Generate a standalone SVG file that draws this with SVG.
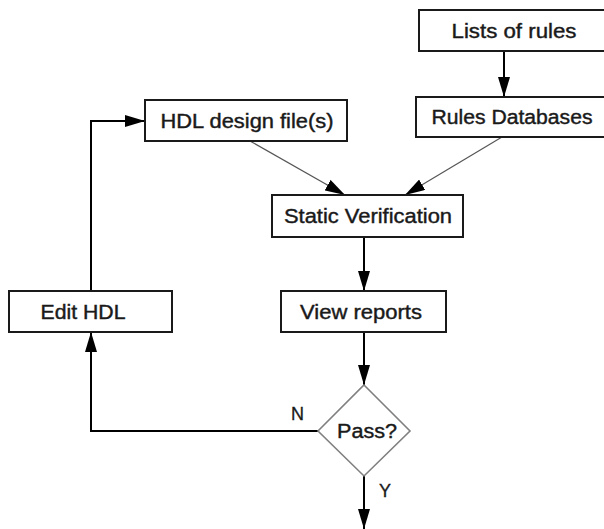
<svg xmlns="http://www.w3.org/2000/svg" width="604" height="529" viewBox="0 0 604 529">
  <defs>
    <marker id="arrow" viewBox="0 0 20 12" refX="20" refY="6" markerWidth="20" markerHeight="12" markerUnits="userSpaceOnUse" orient="auto">
      <path d="M0,0 L20,6 L0,12 Z" fill="#000"/>
    </marker>
    <style>
      .box { fill: #fff; stroke: #1a1a1a; stroke-width: 2; }
      .decision { fill: #fff; stroke: #808080; stroke-width: 1.6; }
      .label { font-family: "Liberation Sans", Arial, sans-serif; font-size: 19.5px; fill: #1a1a1a; stroke: #1a1a1a; stroke-width: 0.4; text-anchor: middle; }
      .small { font-family: "Liberation Sans", Arial, sans-serif; font-size: 18px; fill: #1a1a1a; stroke: #1a1a1a; stroke-width: 0.3; }
      .wire { fill: none; stroke: #000; stroke-width: 2; }
      .thin { fill: none; stroke: #555; stroke-width: 1.2; }
    </style>
  </defs>
  <rect width="604" height="529" fill="#fff"/>

  <g id="connectors">
    <line class="wire" x1="504" y1="51" x2="504" y2="97" marker-end="url(#arrow)"/>
    <line class="thin" x1="250" y1="141" x2="345" y2="195" marker-end="url(#arrow)"/>
    <line class="thin" x1="502" y1="137" x2="405" y2="195" marker-end="url(#arrow)"/>
    <line class="wire" x1="364" y1="237" x2="364" y2="291" marker-end="url(#arrow)"/>
    <line class="wire" x1="364" y1="332" x2="364" y2="385" marker-end="url(#arrow)"/>
    <line class="wire" x1="364" y1="476" x2="364" y2="529" marker-end="url(#arrow)"/>
    <polyline class="wire" points="318,431 91,431 91,332" marker-end="url(#arrow)"/>
    <polyline class="wire" points="91,291 91,121 145,121" marker-end="url(#arrow)"/>
    <text class="small" x="291" y="420">N</text>
    <text class="small" x="379" y="497">Y</text>
  </g>

  <g id="lists-of-rules">
    <rect class="box" x="419" y="10" width="190" height="41"/>
    <text class="label" x="514" y="37.5" textLength="125" lengthAdjust="spacingAndGlyphs">Lists of rules</text>
  </g>

  <g id="rules-databases">
    <rect class="box" x="416" y="97" width="192" height="40"/>
    <text class="label" x="512" y="124" textLength="161" lengthAdjust="spacingAndGlyphs">Rules Databases</text>
  </g>

  <g id="hdl-design-files">
    <rect class="box" x="145" y="100" width="202" height="41"/>
    <text class="label" x="247" y="127.5" textLength="173" lengthAdjust="spacingAndGlyphs">HDL design file(s)</text>
  </g>

  <g id="static-verification">
    <rect class="box" x="272" y="195" width="191" height="42"/>
    <text class="label" x="368" y="223" textLength="168" lengthAdjust="spacingAndGlyphs">Static Verification</text>
  </g>

  <g id="view-reports">
    <rect class="box" x="281" y="291" width="165" height="41"/>
    <text class="label" x="361" y="318.5" textLength="122" lengthAdjust="spacingAndGlyphs">View reports</text>
  </g>

  <g id="edit-hdl">
    <rect class="box" x="9" y="291" width="163" height="41"/>
    <text class="label" x="83" y="318.5" textLength="85" lengthAdjust="spacingAndGlyphs">Edit HDL</text>
  </g>

  <g id="pass">
    <polygon class="decision" points="364,385 410,431 364,476 318,431"/>
    <text class="label" x="367" y="437.5" textLength="60" lengthAdjust="spacingAndGlyphs">Pass?</text>
  </g>
</svg>
